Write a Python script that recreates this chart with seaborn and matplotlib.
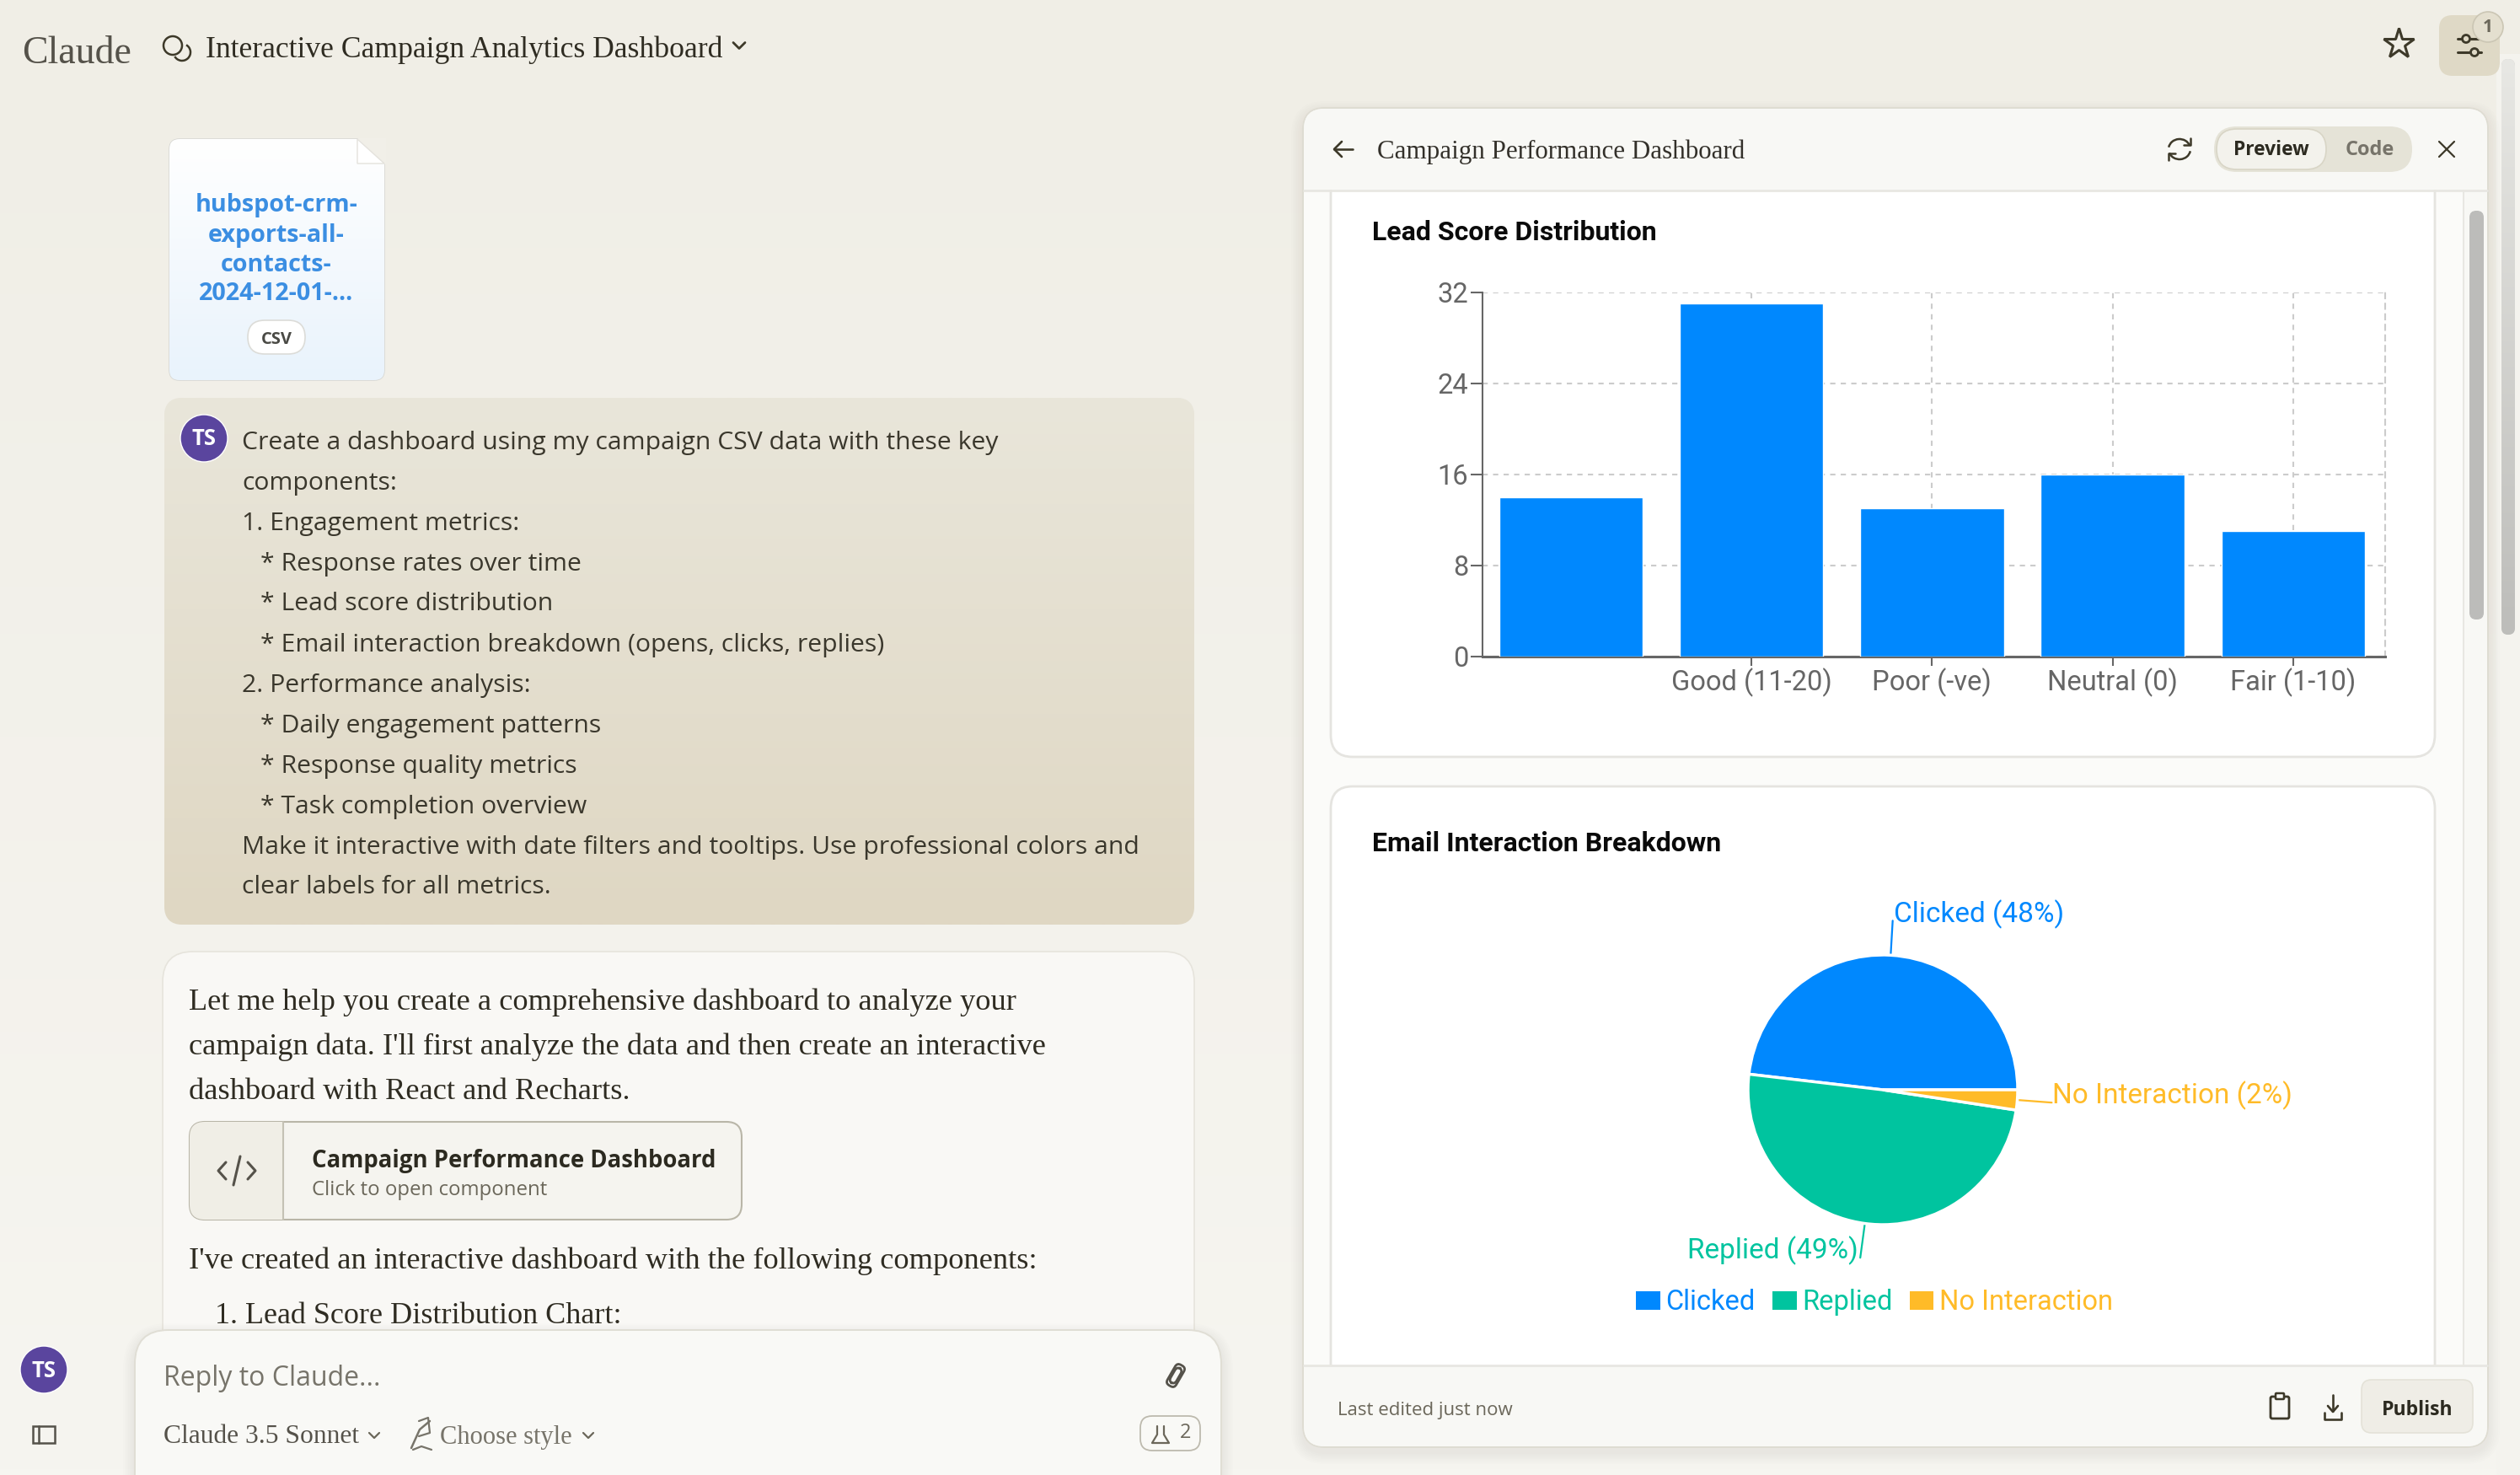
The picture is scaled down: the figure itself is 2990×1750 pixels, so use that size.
import numpy as np
import pandas as pd
import seaborn as sns
import matplotlib
matplotlib.use("Agg")
import matplotlib.pyplot as plt
from matplotlib.colors import LinearSegmentedColormap
from matplotlib.patches import FancyBboxPatch, Circle, Arc, Patch, Polygon, Rectangle
from matplotlib.transforms import Affine2D

score_labels = ["", "Good (11-20)", "Poor (-ve)", "Neutral (0)", "Fair (1-10)"]
score_counts = [14, 31, 13, 16, 11]
score_ticks = [0, 8, 16, 24, 32]

interaction_names = ["Clicked", "Replied", "No Interaction"]
interaction_share = [48.1, 49.4, 2.4]
interaction_colors = ["#0088FE", "#00C49F", "#FFBB28"]

file_lines = ["hubspot-crm-", "exports-all-", "contacts-", "2024-12-01-..."]
prompt_lines = [
    "Create a dashboard using my campaign CSV data with these key",
    "components:",
    "1. Engagement metrics:",
    "* Response rates over time",
    "* Lead score distribution",
    "* Email interaction breakdown (opens, clicks, replies)",
    "2. Performance analysis:",
    "* Daily engagement patterns",
    "* Response quality metrics",
    "* Task completion overview",
    "Make it interactive with date filters and tooltips. Use professional colors and",
    "clear labels for all metrics.",
]
reply_lines = [
    "Let me help you create a comprehensive dashboard to analyze your",
    "campaign data. I'll first analyze the data and then create an interactive",
    "dashboard with React and Recharts.",
]

SERIF = "Liberation Serif"
SANS = "Open Sans"
CHART = "Roboto"
INK = "#3d3929"
BORDER = "#dedcd2"

sns.set_theme(style="white")
plt.rcParams["font.family"] = [SANS, "DejaVu Sans"]

W, H = 2990, 1750
fig = plt.figure(figsize=(W / 100, H / 100), dpi=100)
ui = fig.add_axes([0, 0, 1, 1])
ui.axis("off")


def grad(x0, y0, x1, y1, c1, c2, clip=None, zorder=1):
    cmap = LinearSegmentedColormap.from_list("g", [c1, c2])
    im = ui.imshow(np.linspace(0, 1, 256).reshape(-1, 1), extent=(x0, x1, y1, y0),
                   cmap=cmap, aspect="auto", zorder=zorder)
    if clip is not None:
        im.set_clip_path(clip)


def box(x0, y0, x1, y1, r, fc="none", ec="none", lw=1.5, zorder=2, alpha=None):
    p = FancyBboxPatch((x0 + r, y0 + r), x1 - x0 - 2 * r, y1 - y0 - 2 * r,
                       boxstyle=f"round,pad={r},rounding_size={r}",
                       fc=fc, ec=ec, lw=lw, zorder=zorder, alpha=alpha)
    ui.add_patch(p)
    return p


def shadow(x0, y0, x1, y1, r, spread=14, zorder=2):
    for i in range(spread, 0, -2):
        box(x0 - i, y0 - i + 6, x1 + i, y1 + i + 6, r + i, fc="#6b6654", alpha=0.008, zorder=zorder)


def txt(x, y, s, size=22, color=INK, family=SANS, weight="normal", ha="left", zorder=6):
    return ui.text(x, y + 11, s, fontsize=size, color=color, family=family, fontweight=weight,
                   ha=ha, va="center", zorder=zorder)


def line(xs, ys, color=INK, lw=2.2, zorder=6):
    ui.plot(xs, ys, color=color, lw=lw, zorder=zorder, solid_capstyle="round", solid_joinstyle="round")


def chevron(x, y, s=7, color=INK, lw=2.0, zorder=6):
    line([x - s, x, x + s], [y - s / 2, y + s / 2, y - s / 2], color, lw, zorder)


grad(0, 0, W, H, "#f0eee6", "#f6f5f0", zorder=0)

# top bar
txt(26, 53, "Claude", 33, "#55524a", SERIF)
ui.add_patch(Circle((205, 54), 11, fc="none", ec=INK, lw=1.8, zorder=6))
ui.add_patch(Arc((216, 62), 20, 20, theta1=-60, theta2=150, ec=INK, lw=1.8, zorder=6))
txt(244, 48, "Interactive Campaign Analytics Dashboard", 25.7, "#2f2c22", SERIF)
chevron(877, 54)
ui.plot([2846], [52], marker="*", ms=27, mfc="none", mec=INK, mew=2.2, zorder=6)
box(2894, 18, 2966, 90, 16, fc="#dfd9c6")
line([2916, 2942], [46, 46])
line([2916, 2944], [62, 62])
ui.add_patch(Circle((2926, 46), 4.5, fc="#dfd9c6", ec=INK, lw=2, zorder=7))
ui.add_patch(Circle((2936, 62), 4.5, fc="#dfd9c6", ec=INK, lw=2, zorder=7))
ui.add_patch(Circle((2952, 32), 18, fc="#e4dfcf", ec="#cbc6b4", lw=1.2, zorder=8))
txt(2952, 21, "1", 15, "#6b675a", weight="bold", ha="center", zorder=9)

# file card
card = box(201, 165, 456, 451, 12, fc="#ffffff", ec="#d8d8d4", lw=1.2)
grad(201, 165, 456, 451, "#ffffff", "#e9f3fc", clip=card, zorder=3)
ui.add_patch(Polygon([(424, 164), (458, 164), (458, 196)], fc="#f1efe8", ec="none", zorder=4))
ui.add_patch(Polygon([(424, 165), (456, 194), (424, 194)], fc="#ffffff", ec="#e4e2dc", lw=1, zorder=4))
for i, s in enumerate(file_lines):
    txt(328, 233 + i * 35, s, 20.7, "#3b8ee2", weight="bold", ha="center")
box(294, 380, 362, 420, 20, fc="#ffffff", ec="#dcdcd8", lw=1.2, zorder=5)
txt(328, 392, "CSV", 14.5, "#4a4a45", weight="bold", ha="center")

# user prompt
bubble = box(195, 472, 1417, 1097, 22, fc="#e8e5d9")
grad(195, 472, 1417, 1097, "#e9e6da", "#dfd7c3", clip=bubble, zorder=3)
ui.add_patch(Circle((242, 520), 28, fc="#5a459e", zorder=5))
txt(242, 510, "TS", 18.5, "#ffffff", weight="bold", ha="center")
prompt_y = [514, 562, 610, 658, 706, 754, 802, 850, 898, 946, 994, 1042]
for y, s in zip(prompt_y, prompt_lines):
    txt(309 if s.startswith("*") else 287, y, s, 21.7, "#3a372c")

# assistant reply
box(193, 1129, 1417, 1800, 36, fc="#f9f8f5", ec="#e6e4dc", lw=1.2)
for y, s in zip([1178, 1231, 1284], reply_lines):
    txt(224, y, s, 26.2, "#2f2c22", SERIF)
box(225, 1331, 880, 1447, 18, fc="#f5f4ef", ec="#b9b6a8", lw=1.5, zorder=3)
clip_rect = Rectangle((225, 1331), 111, 116, transform=ui.transData)
left = box(225, 1331, 880, 1447, 18, fc="#f0eee6", ec="none", zorder=4)
left.set_clip_path(clip_rect)
line([336, 336], [1331, 1447], "#c4c1b4", 1.5)
line([268, 259, 268], [1379, 1389, 1399], "#55524a", 2.2)
line([294, 303, 294], [1379, 1389, 1399], "#55524a", 2.2)
line([285, 277], [1372, 1406], "#55524a", 2.2)
txt(370, 1367, "Campaign Performance Dashboard", 19.8, "#2c2a20", weight="bold")
txt(370, 1401, "Click to open component", 17.3, "#6b675a")
txt(224, 1485, "I've created an interactive dashboard with the following components:", 26.2, "#2f2c22", SERIF)
txt(255, 1550, "1. Lead Score Distribution Chart:", 26, "#2f2c22", SERIF)

# input box
shadow(160, 1578, 1449, 1800, 40, zorder=7)
box(160, 1578, 1449, 1800, 40, fc="#f9f9f6", ec="#e0ded5", lw=1.4, zorder=7)
txt(194, 1625, "Reply to Claude...", 23, "#77746a", zorder=8)
clip_t = Affine2D().rotate_deg_around(1395, 1632, 30) + ui.transData
for (w, h) in [(8, 24), (4, 16)]:
    ui.add_patch(FancyBboxPatch((1395 - w / 2, 1632 - h / 2), w, h, boxstyle="round,pad=2,rounding_size=5",
                                fc="none", ec="#55524a", lw=2, zorder=8, transform=clip_t))
txt(194, 1694, "Claude 3.5 Sonnet", 22.7, "#55524a", SERIF, zorder=8)
chevron(444, 1703, 6, "#6b675a", 1.6, zorder=8)
line([488, 498, 510], [1718, 1696, 1686], "#77746a", 1.8, zorder=8)
line([497, 508, 510, 497], [1686, 1682, 1700, 1704], "#77746a", 1.6, zorder=8)
line([490, 500, 512], [1720, 1716, 1720], "#77746a", 1.6, zorder=8)
txt(522, 1694, "Choose style", 22, "#77746a", SERIF, zorder=8)
chevron(698, 1703, 6, "#6b675a", 1.6, zorder=8)
box(1353, 1680, 1424, 1721, 14, fc="none", ec="#bdbaae", lw=1.3, zorder=8)
line([1373, 1373, 1367, 1387, 1381, 1381], [1692, 1702, 1712, 1712, 1702, 1692], "#6b675a", 1.6, zorder=8)
txt(1400, 1689, "2", 17, "#6b675a", zorder=8)

# bottom left
ui.add_patch(Circle((52, 1625), 28, fc="#5a459e", zorder=5))
txt(52, 1615, "TS", 18.5, "#ffffff", weight="bold", ha="center")
ui.add_patch(Rectangle((39, 1692), 26, 20, fc="none", ec="#55524a", lw=1.8, zorder=6))
line([46, 46], [1692, 1712], "#55524a", 1.8)

# page scrollbar
ui.add_patch(Rectangle((2962, 64), 28, H, fc="#f4f3ee", ec="none", zorder=1))
sb = box(2968, 70, 2984, 753, 8, fc="#cfcfcc", zorder=2)
grad(2968, 70, 2984, 753, "#e8e8e4", "#bdbdba", clip=sb, zorder=3)

# artifact panel
shadow(1546, 128, 2952, 1717, 26)
panel = box(1546, 128, 2952, 1717, 26, fc="#f8f8f5", ec=BORDER, lw=1.4)
ui.add_patch(Rectangle((1547, 226), 1377, 1394, fc="#fbfbf9", ec="none", zorder=3))
line([2923, 2923], [226, 1620], "#e8e7e2", 1.5, zorder=3)
box(2930, 250, 2947, 735, 8, fc="#bcbcba", zorder=3)
box(1579, 180, 2889, 898, 26, fc="#ffffff", ec="#e5e4e0", lw=2, zorder=3)
box(1579, 933, 2889, 1700, 26, fc="#ffffff", ec="#e5e4e0", lw=2, zorder=3)
# header and footer sit over the scrolling cards
box(1547, 129, 2951, 225, 24, fc="#f8f8f5", zorder=4)
ui.add_patch(Rectangle((1547, 180), 1404, 45, fc="#f8f8f5", ec="none", zorder=4))
line([1547, 2951], [226, 226], "#e8e7e2", 2, zorder=5)
ui.add_patch(Rectangle((1547, 1620), 1404, 60, fc="#f8f8f5", ec="none", zorder=4))
box(1547, 1640, 2951, 1716, 24, fc="#f8f8f5", zorder=4)
line([1547, 2951], [1620, 1620], "#e8e7e2", 2, zorder=5)

line([1583, 1605], [177, 177], INK, 1.9)
line([1592, 1583, 1592], [168, 177, 186], INK, 1.9)
txt(1634, 169, "Campaign Performance Dashboard", 22.3, "#33302a", SERIF)
ui.add_patch(Arc((2586, 177), 26, 24, theta1=190, theta2=340, ec=INK, lw=1.8, zorder=6))
ui.add_patch(Arc((2586, 177), 26, 24, theta1=10, theta2=160, ec=INK, lw=1.8, zorder=6))
line([2591, 2599, 2599], [172, 172, 164], INK, 1.8)
line([2581, 2573, 2573], [182, 182, 190], INK, 1.8)
box(2627, 150, 2862, 204, 27, fc="#e5e3d7", zorder=5)
box(2630, 153, 2760, 201, 24, fc="#f3f2ec", ec="#d8d5c6", lw=1.2, zorder=5)
txt(2695, 167, "Preview", 16.5, "#2c2a20", weight="bold", ha="center")
txt(2812, 167, "Code", 17, "#77746a", weight="bold", ha="center")
line([2894, 2912], [168, 186], INK, 1.6)
line([2894, 2912], [186, 168], INK, 1.6)

txt(1587, 1662, "Last edited just now", 16, "#6b675a")
box(2694, 1657, 2716, 1683, 2, fc="none", ec=INK, lw=2, zorder=6)
box(2700, 1653, 2710, 1660, 1, fc="#f8f8f5", ec=INK, lw=1.8, zorder=7)
line([2768, 2768], [1655, 1674], INK, 1.9)
line([2762, 2768, 2774], [1668, 1675, 1668], INK, 1.9)
line([2758, 2758, 2778, 2778], [1676, 1684, 1684, 1676], INK, 1.9)
box(2802, 1637, 2934, 1700, 12, fc="#efede6", ec="#e4e2d8", lw=1.2, zorder=5)
txt(2868, 1662, "Publish", 16.6, "#2c2a20", weight="bold", ha="center")

txt(1628, 265, "Lead Score Distribution", 23, "#0a0a0a", CHART, weight="bold")
txt(1628, 990, "Email Interaction Breakdown", 23, "#0a0a0a", CHART, weight="bold")

ui.set_xlim(0, W)
ui.set_ylim(H, 0)

# lead score bars
bx0, bx1, by0, by1 = 1759, 2830, 347, 779
ax = fig.add_axes([bx0 / W, 1 - by1 / H, (bx1 - bx0) / W, (by1 - by0) / H])
ax.patch.set_alpha(0)
df = pd.DataFrame({"score": score_labels, "count": score_counts})
sns.barplot(data=df, x="score", y="count", color=interaction_colors[0], saturation=1, width=0.795, ax=ax, zorder=3)
ax.set_xlim(-0.49, 4.51)
ax.set_ylim(score_ticks[0], score_ticks[-1])
ax.set_yticks(score_ticks)
ax.set_xticks(range(1, len(score_labels)), score_labels[1:])
ax.set_xlabel("")
ax.set_ylabel("")
ax.set_axisbelow(True)
ax.grid(True, color="#cccccc", linestyle=(0, (3, 3)), lw=1.5)
ax.tick_params(axis="y", length=10, width=1.5, color="#666666", labelcolor="#666666", labelsize=23.5, pad=2, left=True)
ax.tick_params(axis="x", length=8, width=1.5, color="#666666", labelcolor="#666666", labelsize=23.5, pad=2, bottom=True)
for label in ax.get_xticklabels() + ax.get_yticklabels():
    label.set_fontfamily(CHART)
for side in ["left", "bottom"]:
    ax.spines[side].set_color("#666666")
    ax.spines[side].set_linewidth(1.5)
ax.spines["bottom"].set_linewidth(2.2)
ax.spines["top"].set_visible(False)
ax.spines["right"].set_color("#cccccc")
ax.spines["right"].set_linestyle((0, (3, 3)))
ax.spines["right"].set_linewidth(1.5)

# interaction pie
cx, cy, rad = 2234, 1293, 160
ax2 = fig.add_axes([(cx - rad) / W, 1 - (cy + rad) / H, 2 * rad / W, 2 * rad / H])
ax2.pie(interaction_share, colors=interaction_colors, startangle=0, counterclock=True, radius=1,
        wedgeprops={"edgecolor": "white", "linewidth": 2.5})
ax2.set_xlim(-1, 1)
ax2.set_ylim(-1, 1)

# recharts style outer labels
start = 0.0
total = sum(interaction_share)
for name, share, color in zip(interaction_names, interaction_share, interaction_colors):
    mid = np.deg2rad(start + share / total * 180)
    start += share / total * 360
    x1, y1 = cx + rad * np.cos(mid), cy - rad * np.sin(mid)
    x2, y2 = cx + (rad + 41) * np.cos(mid), cy - (rad + 41) * np.sin(mid)
    ui.plot([x1, x2], [y1, y2], color=color, lw=1.6, zorder=6)
    ui.text(x2 + (1 if np.cos(mid) >= 0 else -2), y2 - 8, f"{name} ({round(share)}%)", fontsize=24, color=color,
            family=CHART, ha="left" if np.cos(mid) >= 0 else "right", va="center", zorder=6)
ui.set_xlim(0, W)
ui.set_ylim(H, 0)

handles = [Patch(fc=c, ec="none") for c in interaction_colors]
leg = ax2.legend(handles, interaction_names, loc="center", bbox_to_anchor=(2224 / W, 1 - 1545 / H),
                 bbox_transform=fig.transFigure, ncols=3, frameon=False, handlelength=0.88,
                 handleheight=0.66, handletextpad=0.2, columnspacing=0.62, prop={"family": CHART, "size": 23.5})
for t, c in zip(leg.get_texts(), interaction_colors):
    t.set_color(c)

fig.savefig("out.png", dpi=100)
